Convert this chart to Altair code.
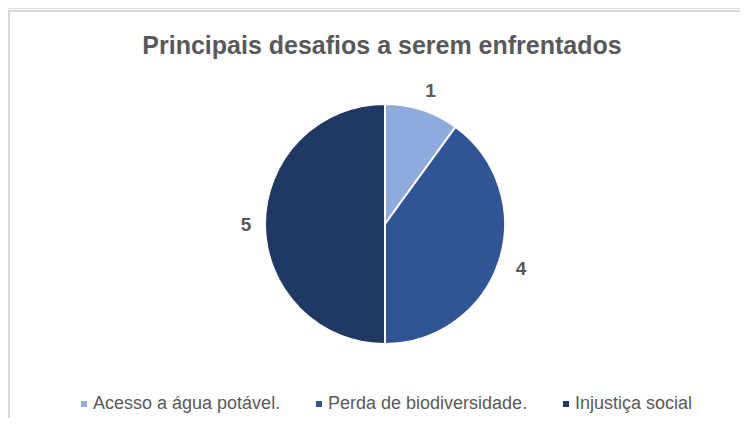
import altair as alt
import pandas as pd

categories = ["Acesso a água potável.", "Perda de biodiversidade.", "Injustiça social"]
values = [1, 4, 5]
colors = ["#8FAADC", "#2F5597", "#203864"]
title_text = "Principais desafios a serem enfrentados"

FONT = "Liberation Sans"
GRAY = "#595959"

df = pd.DataFrame({"cat": categories, "val": values, "idx": list(range(len(values)))})
one = pd.DataFrame({"a": [0]})

CX, CY = 377, 216

base = alt.Chart(df).encode(
    theta=alt.Theta("val:Q", stack=True),
    order=alt.Order("idx:Q"),
)

color_scale = alt.Scale(domain=categories, range=colors)

pie = base.mark_arc(outerRadius=120, stroke="white", strokeWidth=2).encode(
    x=alt.value(CX),
    y=alt.value(CY),
    color=alt.Color(
        "cat:N",
        scale=color_scale,
        sort=categories,
        legend=alt.Legend(
            title=None,
            orient="none",
            legendX=67,
            legendY=387,
            direction="horizontal",
            symbolType="square",
            symbolSize=36,
            symbolStrokeWidth=0,
            labelFont=FONT,
            labelFontSize=18,
            labelColor=GRAY,
            labelOffset=0,
            labelLimit=400,
            columnPadding=29,
        ),
    ),
)

labels = base.mark_text(
    radius=141, font=FONT, fontSize=19, fontWeight="bold", color=GRAY,
    align="center", baseline="middle",
).encode(
    x=alt.value(CX + 2),
    y=alt.value(CY + 1),
    text=alt.Text("val:Q"),
)

title = alt.Chart(one).mark_text(
    text=title_text, font=FONT, fontSize=25, fontWeight="bold", color=GRAY,
    align="center", baseline="alphabetic",
).encode(x=alt.value(374), y=alt.value(46))

top_border = alt.Chart(one).mark_rule(color="#D9D9D9", strokeWidth=2).encode(
    x=alt.value(0), x2=alt.value(732), y=alt.value(3)
)
left_border = alt.Chart(one).mark_rule(color="#D9D9D9", strokeWidth=2).encode(
    x=alt.value(1), y=alt.value(2), y2=alt.value(410)
)

chart = alt.layer(top_border, left_border, pie, labels, title).properties(
    width=732, height=410, padding=0,
    autosize=alt.AutoSizeParams(type="none"),
).configure_view(stroke=None).configure(background="white")

chart.save("out.html", embed_options={"renderer": "svg", "actions": False})
